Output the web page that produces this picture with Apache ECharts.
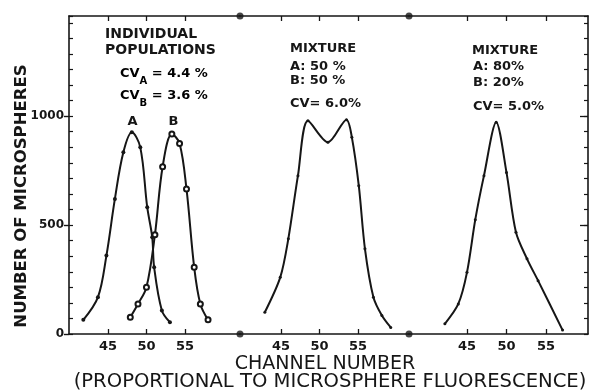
<!DOCTYPE html>
<html>
<head>
<meta charset="utf-8">
<script src="https://cdn.jsdelivr.net/npm/echarts@6/dist/echarts.min.js"></script>
<style>
  html, body { margin: 0; padding: 0; background: #fff; }
  #chart { width: 591px; height: 392px; }
</style>
</head>
<body>
<div id="chart"></div>
<script>
// Fluorescence histograms: channel number vs. number of microspheres
const popAChannel = [41.8, 43.7, 44.8, 45.9, 47.0, 48.1, 49.2, 50.1, 50.75, 51.0, 52.0, 53.05];
const popACount   = [65, 169, 360, 620, 834, 926, 857, 582, 444, 306, 108, 54];

const popBChannel = [47.9, 48.9, 50.0, 51.1, 52.1, 53.3, 54.3, 55.2, 56.2, 57.0, 58.0];
const popBCount   = [77, 138, 215, 456, 768, 918, 875, 666, 306, 138, 65];

const mix5050Channel = [42.9, 44.9, 45.95, 47.2, 48.5, 51.1, 53.5, 54.2, 55.1, 55.9, 57.0, 58.1, 59.25];
const mix5050Count   = [100, 260, 437, 727, 979, 880, 984, 903, 681, 391, 169, 85, 30];

const mix8020Channel = [42.2, 43.9, 45.0, 46.05, 47.15, 48.7, 50.0, 51.2, 52.6, 54.0, 57.1];
const mix8020Count   = [47, 138, 283, 525, 727, 972, 742, 467, 345, 245, 18];

const channelTicks = [45, 50, 55];
const countTicks = [0, 500, 1000];

// ---- layout / styling ----
const INK = '#161616';
const FONT = 'DejaVu Sans';
const COUNT_MAX = 1460;
const panels = [
  { left: 69,  width: 171, min: 39.94, max: 62.15 },
  { left: 240, width: 169, min: 39.675, max: 61.62 },
  { left: 409, width: 179, min: 37.66, max: 60.32 }
];
const TOP = 16, HEIGHT = 318;

const zip = (xs, ys) => xs.map((x, i) => [x, ys[i]]);
const axisLineStyle = { color: INK, width: 1.6 };

const grid = panels.map(p => ({ left: p.left, top: TOP, width: p.width, height: HEIGHT }));

const xAxis = [];
panels.forEach((p, i) => {
  // bottom axis with channel labels
  xAxis.push({
    type: 'value', gridIndex: i, position: 'bottom', min: p.min, max: p.max,
    axisLine: { show: true, onZero: false, lineStyle: axisLineStyle },
    axisTick: { show: true, inside: true, length: 5, customValues: channelTicks, lineStyle: { color: INK, width: 1.3 } },
    axisLabel: { show: true, customValues: channelTicks, color: INK, fontFamily: FONT, fontWeight: 'bold', fontSize: 13, margin: 6 },
    splitLine: { show: false }
  });
  // top frame edge
  xAxis.push({
    type: 'value', gridIndex: i, position: 'top', min: p.min, max: p.max,
    axisLine: { show: true, onZero: false, lineStyle: axisLineStyle },
    axisTick: { show: true, inside: true, length: 5, customValues: channelTicks, lineStyle: { color: INK, width: 1.3 } },
    axisLabel: { show: false },
    splitLine: { show: false }
  });
});

const yBase = { type: 'value', min: 0, max: COUNT_MAX, splitLine: { show: false } };
const yAxis = [
  // 0: left axis with count labels
  Object.assign({}, yBase, {
    gridIndex: 0, position: 'left',
    axisLine: { show: true, onZero: false, lineStyle: axisLineStyle },
    axisTick: { show: true, inside: false, length: 5, customValues: countTicks, lineStyle: { color: INK, width: 1.4 } },
    axisLabel: {
      show: true, customValues: countTicks, formatter: v => String(v),
      color: INK, fontFamily: FONT, fontWeight: 'bold', fontSize: 12, margin: 5
    }
  }),
  // 1: small inner ticks on the left edge
  Object.assign({}, yBase, {
    gridIndex: 0, position: 'left', interval: 500 / 7,
    axisLine: { show: false },
    axisTick: { show: true, inside: true, length: 4, lineStyle: { color: INK, width: 1.2 } },
    axisLabel: { show: false }
  }),
  // 2: middle panel (frame only at top/bottom)
  Object.assign({}, yBase, { gridIndex: 1, show: false }),
  // 3: right edge with inner ticks
  Object.assign({}, yBase, {
    gridIndex: 2, position: 'right', interval: 500 / 7,
    axisLine: { show: true, onZero: false, lineStyle: axisLineStyle },
    axisTick: { show: true, inside: true, length: 4, lineStyle: { color: INK, width: 1.2 } },
    axisLabel: { show: false }
  }),
  // 4: longer ticks on the right edge at the labelled counts
  Object.assign({}, yBase, {
    gridIndex: 2, position: 'right',
    axisLine: { show: false },
    axisTick: { show: true, inside: true, length: 8, customValues: [500, 1000], lineStyle: { color: INK, width: 1.3 } },
    axisLabel: { show: false }
  })
];

const curve = (name, xi, yi, data, extra) => Object.assign({
  name, type: 'line', xAxisIndex: xi, yAxisIndex: yi, data,
  smooth: 0.35, symbol: 'circle', symbolSize: 3,
  lineStyle: { color: INK, width: 2 },
  itemStyle: { color: INK },
  emphasis: { disabled: true }
}, extra || {});

const series = [
  curve('A', 0, 0, zip(popAChannel, popACount), { symbolSize: 4 }),
  curve('B', 0, 0, zip(popBChannel, popBCount), {
    symbol: 'emptyCircle', symbolSize: 5,
    itemStyle: { color: INK, borderColor: INK, borderWidth: 1.3 }
  }),
  curve('Mixture 50/50', 2, 2, zip(mix5050Channel, mix5050Count), { smooth: 0.3 }),
  curve('Mixture 80/20', 4, 3, zip(mix8020Channel, mix8020Count), { smooth: 0.3 }),
  // panel separators on the frame
  {
    type: 'scatter', xAxisIndex: 0, yAxisIndex: 0, clip: false, symbolSize: 7,
    itemStyle: { color: INK }, silent: true,
    data: [[panels[0].max, 0], [panels[0].max, COUNT_MAX]]
  },
  {
    type: 'scatter', xAxisIndex: 2, yAxisIndex: 2, clip: false, symbolSize: 7,
    itemStyle: { color: INK }, silent: true,
    data: [[panels[1].max, 0], [panels[1].max, COUNT_MAX]]
  }
];

const boldText = (x, y, text, size, extra) => ({
  type: 'text', x, y, silent: true,
  style: Object.assign({
    text, fill: INK, font: `bold ${size || 13}px "${FONT}"`,
    textAlign: 'left', textVerticalAlign: 'middle'
  }, extra || {})
});

const cvRich = {
  n: { fontFamily: FONT, fontWeight: 'bold', fontSize: 13, color: INK, verticalAlign: 'bottom', lineHeight: 16 },
  s: { fontFamily: FONT, fontWeight: 'bold', fontSize: 10, color: INK, verticalAlign: 'bottom', lineHeight: 16, padding: [0, 0, -6, 0] }
};

const graphic = [
  // axis titles
  {
    type: 'text', x: 22, y: 196, rotation: Math.PI / 2, silent: true,
    style: { text: 'NUMBER OF MICROSPHERES', fill: INK, font: `bold 16.5px "${FONT}"`, textAlign: 'center', textVerticalAlign: 'middle' }
  },
  {
    type: 'text', x: 325, y: 364, silent: true,
    style: { text: 'CHANNEL NUMBER', fill: INK, font: `19px "${FONT}"`, textAlign: 'center', textVerticalAlign: 'middle' }
  },
  {
    type: 'text', x: 330, y: 382, silent: true,
    style: { text: '(PROPORTIONAL TO MICROSPHERE FLUORESCENCE)', fill: INK, font: `19.6px "${FONT}"`, textAlign: 'center', textVerticalAlign: 'middle' }
  },
  // panel 1 notes
  boldText(105, 34.5, 'INDIVIDUAL', 14),
  boldText(105, 50, 'POPULATIONS', 14),
  {
    type: 'text', x: 120, y: 64, silent: true,
    style: { text: '{n|CV}{s|A}{n| = 4.4 %}', rich: cvRich, textAlign: 'left', textVerticalAlign: 'top' }
  },
  {
    type: 'text', x: 120, y: 86, silent: true,
    style: { text: '{n|CV}{s|B}{n| = 3.6 %}', rich: cvRich, textAlign: 'left', textVerticalAlign: 'top' }
  },
  boldText(132.5, 121.5, 'A', 13, { textAlign: 'center' }),
  boldText(173.5, 121.5, 'B', 13, { textAlign: 'center' }),
  // panel 2 notes
  boldText(290, 48.5, 'MIXTURE'),
  boldText(290, 66.5, 'A: 50 %'),
  boldText(290, 81, 'B: 50 %'),
  boldText(290, 104, 'CV= 6.0%'),
  // panel 3 notes
  boldText(472, 51, 'MIXTURE'),
  boldText(473, 67, 'A: 80%'),
  boldText(473, 83, 'B: 20%'),
  boldText(473, 106.5, 'CV= 5.0%')
];

const chart = echarts.init(document.getElementById('chart'), null, { renderer: 'canvas' });
chart.setOption({
  backgroundColor: '#ffffff',
  animation: false,
  grid, xAxis, yAxis, series, graphic
});
</script>
</body>
</html>
